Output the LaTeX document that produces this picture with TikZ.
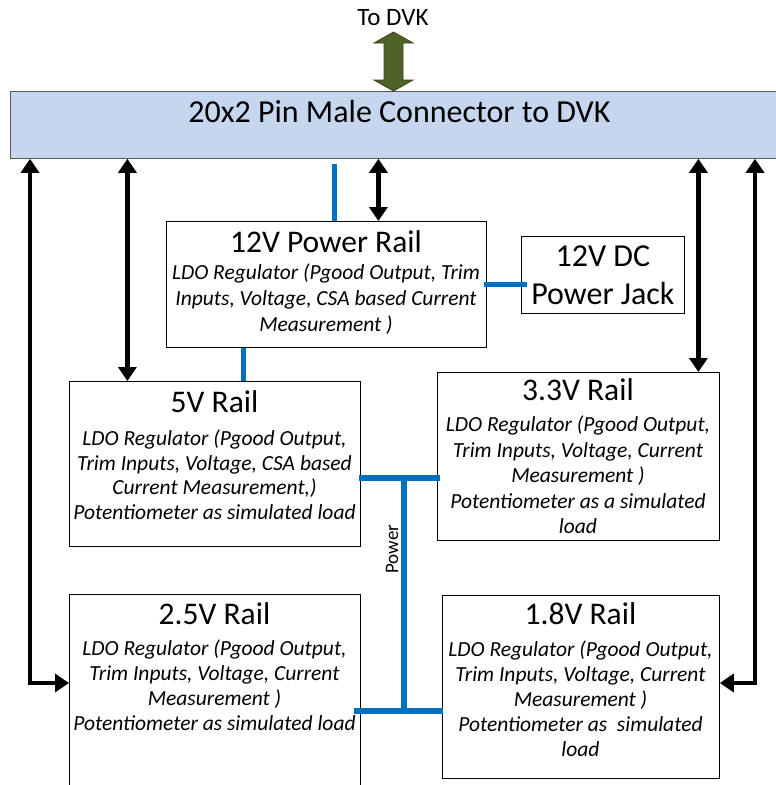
\documentclass[tikz,border=0pt]{standalone}
\usepackage{fontspec}
\setmainfont{Carlito}
\usetikzlibrary{arrows.meta,positioning}
\definecolor{connblue}{HTML}{C6D6EE}
\definecolor{busblue}{HTML}{0070C0}
\definecolor{olive}{HTML}{4F6228}
\begin{document}
\begin{tikzpicture}[x=1pt,y=-1pt]

    \tikzset{
      railbox/.style={
        draw=black,
        line width=0.8pt,
        fill=white,
        inner sep=0pt,
        anchor=north west,
      },
      railtitle/.style={
        font=\fontsize{31.5}{34}\selectfont,
        inner sep=0pt,
      },
      railbody/.style={
        font=\fontsize{21.5}{25}\selectfont\itshape,
        align=center,
        inner sep=0pt,
        anchor=north,
      },
      bus/.style={
        draw=busblue,
        line width=5.5pt,
      },
      sig/.style={
        draw=black,
        line width=4.5pt,
        {Triangle[width=18pt,length=14pt]}-{Triangle[width=18pt,length=14pt]},
      },
    }
    \clip (0,0) rectangle (776,785);

    \node[railbox, draw=gray!70!black, fill=connblue, minimum width=778, minimum height=67] (conn) at (10,91) {};
    \node[railtitle, font=\fontsize{32}{34}\selectfont] (conntext) at ([yshift=13]conn.center) {20x2 Pin Male Connector to DVK};
    \node[font=\fontsize{25}{28}\selectfont, inner sep=0pt] (todvk) at (393,18) {To DVK};
    \draw[fill=olive, draw=olive!70!black, line width=0.8pt] (393.5,32) -- (413,43) -- (403,43) -- (403,80) -- (413,80) -- (393.5,91) -- (374,80) -- (384,80) -- (384,43) -- (374,43) -- cycle;

    \node[railbox, minimum width=320, minimum height=126] (p12) at (166,221) {};
    \node[railtitle] (p12title) at (326,242) {12V Power Rail};
    \node[railbody, font=\fontsize{21.5}{26}\selectfont\itshape] (p12body) at (326,264) {LDO Regulator (Pgood Output, Trim\\Inputs, Voltage, CSA based Current\\Measurement )};

    \node[railbox, minimum width=163, minimum height=77] (jack) at (521,236) {};
    \node[railtitle, align=center, font=\fontsize{32}{38}\selectfont] (jacktext) at (jack.center) {12V DC\\Power Jack};

    \node[railbox, minimum width=291, minimum height=165] (r5) at (69,381) {};
    \node[railtitle] (r5title) at (214.5,402) {5V Rail};
    \node[railbody, font=\fontsize{21.5}{24.5}\selectfont\itshape] (r5body) at (214.5,430) {LDO Regulator (Pgood Output,\\Trim Inputs, Voltage, CSA based\\Current Measurement,)\\Potentiometer as simulated load};

    \node[railbox, minimum width=282, minimum height=168] (r33) at (437,372) {};
    \node[railtitle] (r33title) at (578,390) {3.3V Rail};
    \node[railbody, font=\fontsize{21.5}{25.5}\selectfont\itshape] (r33body) at (578,416) {LDO Regulator (Pgood Output,\\Trim Inputs, Voltage, Current\\Measurement )\\Potentiometer as a simulated\\load};

    \node[railbox, minimum width=291, minimum height=210] (r25) at (69,594) {};
    \node[railtitle] (r25title) at (214.5,614) {2.5V Rail};
    \node[railbody] (r25body) at (214.5,640) {LDO Regulator (Pgood Output,\\Trim Inputs, Voltage, Current\\Measurement )\\Potentiometer as simulated load};

    \node[railbox, minimum width=277, minimum height=183] (r18) at (442,595) {};
    \node[railtitle] (r18title) at (580.5,614) {1.8V Rail};
    \node[railbody] (r18body) at (580.5,641) {LDO Regulator (Pgood Output,\\Trim Inputs, Voltage, Current\\Measurement )\\Potentiometer as~ simulated\\load};

    \draw[bus] ([xshift=8]p12.north) -- ([xshift=8,yshift=-5]p12.north |- conn.south);
    \draw[bus] ([xshift=-83]p12.south) -- ([xshift=-83]p12.south |- r5.north);
    \draw[bus] ([xshift=-3]p12.east) -- ([xshift=6]p12.east -| jack.west);

    \coordinate (bustop) at (404,478);
    \coordinate (busbot) at (404,711);
    \draw[bus] ([xshift=-2]bustop -| r5.east) -- ([xshift=3]bustop -| r33.west);
    \draw[bus] (bustop) -- (busbot);
    \draw[bus] ([xshift=-7]busbot -| r25.east) -- ([xshift=1]busbot -| r18.west);
    \node[rotate=90, font=\fontsize{19}{22}\selectfont, inner sep=0pt] (powerlabel) at (392,549) {Power};

    \draw[sig] ([xshift=52]p12.north |- conn.south) -- ([xshift=52]p12.north);
    \draw[sig] ([xshift=-87.5]r5.north |- conn.south) -- ([xshift=-87.5]r5.north);
    \draw[sig] ([xshift=120]r33.north |- conn.south) -- ([xshift=120]r33.north);

    \coordinate (leftbend) at (30,683);
    \coordinate (rightbend) at (755,683);
    \draw[sig] (leftbend |- conn.south) -- (leftbend) -- (leftbend -| r25.west);
    \draw[sig] (rightbend |- conn.south) -- (rightbend) -- (rightbend -| r18.east);

\end{tikzpicture}
\end{document}
